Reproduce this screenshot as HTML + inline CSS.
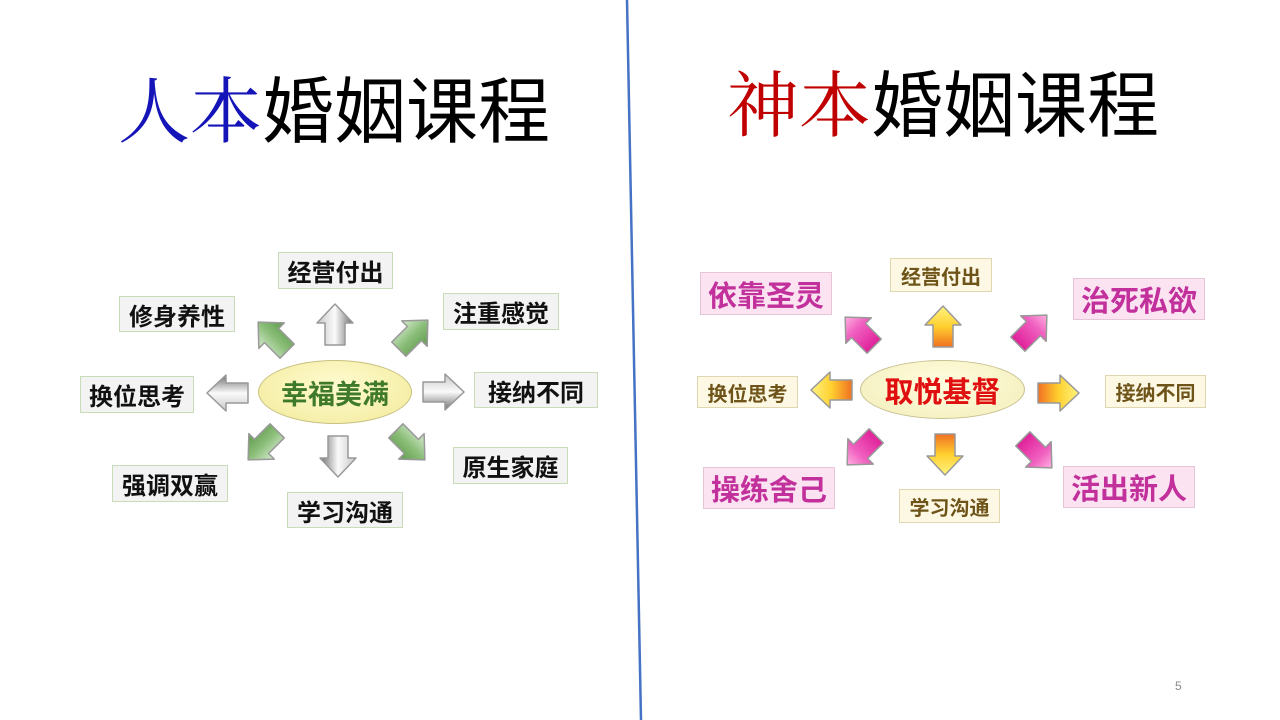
<!DOCTYPE html>
<html><head><meta charset="utf-8"><style>
body{margin:0;width:1280px;height:720px;background:#fff;position:relative;overflow:hidden;font-family:"Liberation Sans","Noto Sans CJK SC",sans-serif;}
.t{position:absolute;font-size:72px;line-height:1;white-space:nowrap;}
.t .s{font-family:"Liberation Serif","Noto Serif CJK SC",serif;}
.t .h{font-family:"Liberation Sans","Noto Sans CJK SC",sans-serif;}
.b{position:absolute;display:flex;align-items:center;justify-content:center;font-weight:bold;white-space:nowrap;box-sizing:border-box;}
.g{background:#f3f3f3;border:1px solid #c8dcb8;color:#111;font-size:24px;}
.y{background:#fdf8e4;border:1px solid #e0d6b0;color:#6e5418;font-size:20px;}
.p{background:#fbe3f1;border:1px solid #e6c6d6;color:#c2309c;font-size:29px;}
.e{position:absolute;border-radius:50%;display:flex;align-items:center;justify-content:center;font-weight:bold;white-space:nowrap;}
svg{position:absolute;left:0;top:0}
</style></head><body>
<svg width="1280" height="720">
<defs>
<linearGradient id="gr" x1="0" y1="0" x2="0" y2="1"><stop offset="0" stop-color="#c8c8c8"/><stop offset=".5" stop-color="#fafafa"/><stop offset="1" stop-color="#6e6e6e"/></linearGradient>
<linearGradient id="gn" x1="0" y1="0" x2="0" y2="1"><stop offset="0" stop-color="#d7ead0"/><stop offset=".5" stop-color="#8cbf7a"/><stop offset="1" stop-color="#5f9a4c"/></linearGradient>
<linearGradient id="yl" x1="0" y1="0" x2="1" y2="0"><stop offset="0" stop-color="#f07020"/><stop offset=".5" stop-color="#ffd030"/><stop offset="1" stop-color="#fff480"/></linearGradient>
<linearGradient id="pk" x1="0" y1="0" x2="1" y2="0"><stop offset="0" stop-color="#e0209a"/><stop offset=".6" stop-color="#f060c0"/><stop offset="1" stop-color="#ffb0e0"/></linearGradient>
<polygon id="ar" points="-20,-10 2,-10 2,-18 21,0 2,18 2,10 -20,10" stroke="#999" stroke-width="1.5" stroke-linejoin="round"/>
</defs>
<line x1="627" y1="0" x2="641" y2="720" stroke="#4472c4" stroke-width="2.5"/>
<use href="#ar" fill="url(#gr)" transform="translate(335,325) rotate(-90)"/>
<use href="#ar" fill="url(#gn)" transform="translate(273,337) rotate(-135)"/>
<use href="#ar" fill="url(#gn)" transform="translate(413,335) rotate(-45)"/>
<use href="#ar" fill="url(#gr)" transform="translate(228,393) rotate(180)"/>
<use href="#ar" fill="url(#gr)" transform="translate(443,392)"/>
<use href="#ar" fill="url(#gn)" transform="translate(263,445) rotate(135)"/>
<use href="#ar" fill="url(#gr)" transform="translate(338,456) rotate(90)"/>
<use href="#ar" fill="url(#gn)" transform="translate(410,445) rotate(45)"/>
<use href="#ar" fill="url(#yl)" transform="translate(943,327) rotate(-90)"/>
<use href="#ar" fill="url(#pk)" transform="translate(860,332) rotate(-135)"/>
<use href="#ar" fill="url(#pk)" transform="translate(1032,330) rotate(-45)"/>
<use href="#ar" fill="url(#yl)" transform="translate(832,390) rotate(180)"/>
<use href="#ar" fill="url(#yl)" transform="translate(1058,393)"/>
<use href="#ar" fill="url(#pk)" transform="translate(862,450) rotate(135)"/>
<use href="#ar" fill="url(#yl)" transform="translate(945,454) rotate(90)"/>
<use href="#ar" fill="url(#pk)" transform="translate(1037,453) rotate(45)"/>
</svg>
<div class="t" style="left:118px;top:77px;"><span class="s" style="color:#1414b8">人本</span><span class="h" style="color:#000">婚姻课程</span></div>
<div class="t" style="left:727px;top:71px;"><span class="s" style="color:#c00000">神本</span><span class="h" style="color:#000">婚姻课程</span></div>

<div class="e" style="left:258px;top:360px;width:152px;height:62px;background:radial-gradient(ellipse at 50% 40%,#fffbd0,#f2ea9a);border:1px solid #c8c080;color:#3f7a2a;font-size:27px;">幸福美满</div>
<div class="b g" style="left:278px;top:252px;width:115px;height:37px;">经营付出</div>
<div class="b g" style="left:119px;top:296px;width:116px;height:36px;">修身养性</div>
<div class="b g" style="left:443px;top:293px;width:116px;height:37px;">注重感觉</div>
<div class="b g" style="left:80px;top:376px;width:114px;height:37px;">换位思考</div>
<div class="b g" style="left:474px;top:372px;width:124px;height:36px;">接纳不同</div>
<div class="b g" style="left:112px;top:465px;width:116px;height:37px;">强调双赢</div>
<div class="b g" style="left:453px;top:447px;width:115px;height:37px;">原生家庭</div>
<div class="b g" style="left:287px;top:492px;width:116px;height:36px;">学习沟通</div>

<div class="e" style="left:860px;top:360px;width:163px;height:57px;background:radial-gradient(ellipse at 50% 40%,#fffde0,#f3edb8);border:1px solid #c8c090;color:#e01010;font-size:29px;">取悦基督</div>
<div class="b y" style="left:890px;top:258px;width:102px;height:34px;">经营付出</div>
<div class="b p" style="left:700px;top:272px;width:132px;height:43px;">依靠圣灵</div>
<div class="b p" style="left:1073px;top:278px;width:132px;height:42px;">治死私欲</div>
<div class="b y" style="left:697px;top:376px;width:101px;height:32px;">换位思考</div>
<div class="b y" style="left:1105px;top:375px;width:101px;height:33px;">接纳不同</div>
<div class="b p" style="left:703px;top:467px;width:132px;height:42px;">操练舍己</div>
<div class="b y" style="left:899px;top:489px;width:101px;height:34px;">学习沟通</div>
<div class="b p" style="left:1063px;top:466px;width:132px;height:42px;">活出新人</div>

<div style="position:absolute;left:1175px;top:679px;font-size:12px;color:#888;">5</div>
</body></html>
